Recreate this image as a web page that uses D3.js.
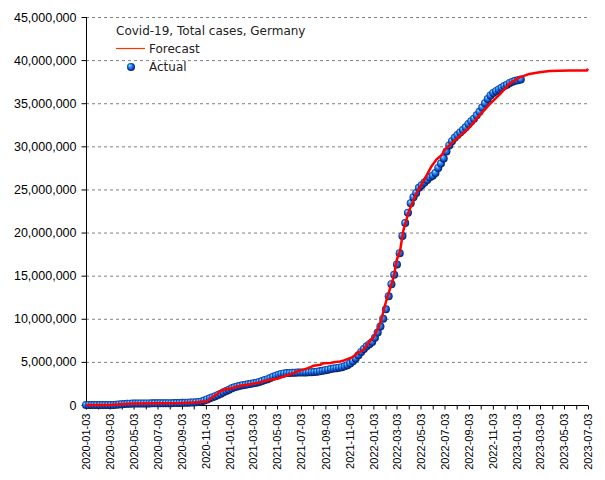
<!DOCTYPE html>
<html><head><meta charset="utf-8">
<script src="https://cdn.jsdelivr.net/npm/d3@7"></script>
<style>
html,body{margin:0;padding:0;background:#fff;}
svg{display:block;}
.ylab{font-family:"Liberation Sans",Arial,sans-serif;font-size:12.5px;fill:#000;}
.xlab{font-family:"Liberation Sans",Arial,sans-serif;font-size:11px;fill:#000;}
.leg{font-family:"DejaVu Sans",sans-serif;font-size:12px;fill:#222;}
</style></head>
<body>
<script>
// ---- DATA ----
const title = "Covid-19, Total cases, Germany";
const seriesNames = ["Forecast", "Actual"];
// Actual: weekly observations starting 2020-01-03 (values in millions)
const actualStart = "2020-01-03";
const actualValues = [
0,0,0,0,0,0,0,0,0,0.001,
0.004,0.02,0.05,0.09,0.12,0.14,0.155,0.165,0.17,0.175,
0.18,0.183,0.185,0.188,0.19,0.195,0.197,0.2,0.202,0.206,
0.21,0.217,0.225,0.234,0.243,0.25,0.26,0.27,0.285,0.3,
0.32,0.36,0.42,0.52,0.65,0.78,0.9,1.02,1.15,1.3,
1.47,1.63,1.78,1.93,2.05,2.14,2.22,2.29,2.35,2.4,
2.46,2.52,2.58,2.67,2.77,2.89,3.0,3.13,3.27,3.4,
3.51,3.6,3.66,3.7,3.72,3.74,3.75,3.755,3.76,3.77,
3.78,3.79,3.81,3.83,3.86,3.9,3.96,4.03,4.1,4.17,
4.22,4.27,4.33,4.39,4.48,4.62,4.82,5.07,5.4,5.78,
6.15,6.5,6.8,7.05,7.3,7.8,8.4,9.1,10.0,11.1,
12.6,14.0,15.1,16.3,17.6,19.6,21.1,22.3,23.4,24.1,
24.6,25.2,25.5,25.8,26.1,26.4,26.6,26.9,27.5,28.0,
28.6,29.4,30.1,30.6,31.0,31.3,31.6,31.9,32.2,32.6,
32.9,33.2,33.6,34.0,34.5,35.0,35.5,35.9,36.2,36.4,
36.6,36.8,37.0,37.15,37.35,37.5,37.6,37.65,37.75
];
// Forecast line (values in millions)
const forecastDates = ["2020-01-03","2020-03-01","2020-04-01","2020-05-01","2020-07-01","2020-09-01","2020-10-02","2020-11-05","2020-11-22","2020-12-01",
"2020-12-09","2020-12-26","2021-01-12","2021-01-20","2021-02-15","2021-03-13","2021-03-30","2021-04-16","2021-05-03","2021-05-20",
"2021-06-14","2021-06-23","2021-07-10","2021-07-27","2021-08-04","2021-08-21","2021-08-30","2021-09-16","2021-09-24","2021-10-11",
"2021-10-20","2021-11-06","2021-11-14","2021-11-23","2021-12-09","2021-12-18","2022-01-04","2022-01-17","2022-01-25","2022-02-03",
"2022-02-11","2022-02-24","2022-03-04","2022-03-12","2022-03-20","2022-04-02","2022-04-23","2022-05-10","2022-05-31","2022-06-13",
"2022-06-26","2022-07-04","2022-07-17","2022-08-11","2022-09-05","2022-09-30","2022-10-26","2022-11-20","2022-12-16","2023-01-10",
"2023-02-04","2023-03-02","2023-03-27","2023-05-17","2023-06-30","2023-07-03"];
const forecastValues = [0,0,0.1,0.18,0.2,0.23,0.28,0.4,1.0,1.2,
1.6,1.85,1.97,2.15,2.35,2.55,2.74,2.93,3.05,3.3,
3.7,3.9,4.1,4.4,4.55,4.67,4.85,4.88,4.95,5.06,
5.17,5.45,5.64,6.03,6.4,7.0,7.9,9.1,10.2,11.8,
13.0,14.9,16.9,17.9,20.2,22.3,24.6,25.9,27.7,28.5,
29.0,29.6,30.2,31.2,32.2,33.6,34.9,36.0,37.3,38.0,
38.4,38.6,38.75,38.8,38.8,39.0];
const xDomain = ["2020-01-03", "2023-07-03"];
const yTicks = [0,5000000,10000000,15000000,20000000,25000000,30000000,35000000,40000000,45000000];

// ---- CHART ----
const W = 605, H = 480;
const margin = {left: 86, right: 17, top: 17, bottom: 75};
const parse = d3.timeParse("%Y-%m-%d");
const fmtDate = d3.timeFormat("%Y-%m-%d");

const start = parse(actualStart);
const actual = actualValues.map((v, i) => ({date: d3.timeDay.offset(start, 7 * i), value: v * 1e6}));
const forecast = forecastDates.map((d, i) => ({date: parse(d), value: forecastValues[i] * 1e6}));

const x = d3.scaleTime().domain(xDomain.map(parse)).range([margin.left, W - margin.right]);
const y = d3.scaleLinear().domain([0, 45000000]).range([H - margin.bottom, margin.top]);

const svg = d3.select("body").append("svg").attr("width", W).attr("height", H);
const defs = svg.append("defs");
const g = defs.append("radialGradient").attr("id", "ball")
  .attr("cx", "50%").attr("cy", "50%").attr("r", "55%").attr("fx", "32%").attr("fy", "28%");
[["0%", "#b8f0ff"], ["28%", "#3aa4ff"], ["62%", "#1258d8"], ["100%", "#000c40"]]
  .forEach(([o, c]) => g.append("stop").attr("offset", o).attr("stop-color", c));

// gridlines
svg.append("g").selectAll("line").data(yTicks.filter(t => t > 0)).join("line")
  .attr("x1", margin.left).attr("x2", W - margin.right)
  .attr("y1", d => y(d) + 0.5).attr("y2", d => y(d) + 0.5)
  .attr("stroke", "#808080").attr("stroke-width", 1).attr("stroke-dasharray", "3,3");

// monthly ticks on the 3rd, labels every 2 months
const tickDates = d3.timeMonth.range(parse("2020-01-01"), parse("2023-07-02")).map(d => d3.timeDay.offset(d, 2));
const xAxis = d3.axisBottom(x).tickValues(tickDates).tickSize(4)
  .tickFormat((d, i) => i % 2 === 0 ? fmtDate(d) : "");
const gx = svg.append("g").attr("transform", `translate(0,${y(0) + 0.5})`).call(xAxis);
gx.select(".domain").attr("stroke", "#000").attr("d", `M${margin.left},0H${W - margin.right}`);
gx.selectAll(".tick line").attr("stroke", "#000");
gx.selectAll(".tick text").attr("class", "xlab")
  .attr("transform", "rotate(-90)").attr("text-anchor", "end")
  .attr("x", -8).attr("y", 0).attr("dy", "0.35em");

const yAxis = d3.axisLeft(y).tickValues(yTicks).tickSize(5).tickPadding(5).tickFormat(d3.format(","));
const gy = svg.append("g").attr("transform", `translate(${margin.left + 0.5},0)`).call(yAxis);
gy.select(".domain").attr("stroke", "#000").attr("d", `M0,${y(45000000)}V${y(0)}`);
gy.selectAll(".tick line").attr("stroke", "#000");
gy.selectAll(".tick text").attr("class", "ylab");

// actual points
svg.append("g").selectAll("circle").data(actual).join("circle")
  .attr("cx", d => x(d.date)).attr("cy", d => y(d.value)).attr("r", 4)
  .attr("fill", "url(#ball)");

// forecast line
svg.append("path").datum(forecast)
  .attr("d", d3.line().x(d => x(d.date)).y(d => y(d.value)))
  .attr("fill", "none").attr("stroke", "#ff0000").attr("stroke-width", 2.5).attr("stroke-linejoin", "round");

// legend
const lg = svg.append("g");
lg.append("text").attr("class", "leg").attr("x", 116).attr("y", 35).text(title);
lg.append("line").attr("x1", 116).attr("x2", 145).attr("y1", 48.5).attr("y2", 48.5)
  .attr("stroke", "#ff3300").attr("stroke-width", 1.2);
lg.append("text").attr("class", "leg").attr("x", 149).attr("y", 53).text(seriesNames[0]);
lg.append("circle").attr("cx", 131).attr("cy", 67).attr("r", 4).attr("fill", "url(#ball)");
lg.append("text").attr("class", "leg").attr("x", 149).attr("y", 71).text(seriesNames[1]);
</script>
</body></html>
